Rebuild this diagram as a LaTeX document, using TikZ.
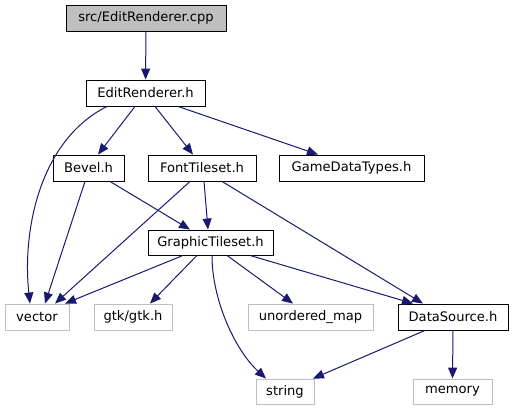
\documentclass[tikz,border=0pt]{standalone}
\usepackage{fontspec}
\setmainfont{DejaVu Sans}
\usetikzlibrary{arrows.meta}
\definecolor{edgeblue}{HTML}{191970}
\definecolor{leafgray}{HTML}{BFBFBF}
\begin{document}
\begin{tikzpicture}[x=1pt,y=-1pt,
  box/.style={draw=black,line width=0.9pt,fill=white,inner sep=0pt,minimum height=26pt,font=\fontsize{13.1}{15}\selectfont},
  leaf/.style={box,draw=leafgray},
  root/.style={box,fill=leafgray},
  e/.style={draw=edgeblue,line width=1pt,-{Triangle[length=11pt,width=9pt]}}]
\useasboundingbox (0,0) rectangle (514,411);
\node[root,minimum width=160pt] (cpp) at (146,18) {src/EditRenderer.cpp};
\node[box,minimum width=119pt] (eh) at (145.5,93) {EditRenderer.h};
\node[box,minimum width=71pt] (bevel) at (88.5,168) {Bevel.h};
\node[box,minimum width=108pt] (font) at (202,168) {FontTileset.h};
\node[box,minimum width=145pt] (game) at (351.5,168) {GameDataTypes.h};
\node[box,minimum width=125pt,minimum height=25pt] (gt) at (210.5,242.5) {GraphicTileset.h};
\node[leaf,minimum width=64pt] (vector) at (37,317) {vector};
\node[leaf,minimum width=78pt] (gtk) at (133,317) {gtk/gtk.h};
\node[leaf,minimum width=125pt] (umap) at (310.5,317) {unordered\_map};
\node[box,minimum width=110pt] (ds) at (453,317) {DataSource.h};
\node[leaf,minimum width=58pt,minimum height=25pt] (string) at (285,391.5) {string};
\node[leaf,minimum width=79pt,minimum height=25pt] (memory) at (452.5,391.5) {memory};

\draw[e] (cpp) -- (eh);
\draw[e] ([xshift=-38.5pt]eh.south) .. controls (40,140) and (22,230) .. ([xshift=-7pt]vector.north);
\draw[e] ([xshift=-10.5pt]eh.south) -- ([xshift=9.5pt]bevel.north);
\draw[e] ([xshift=9.5pt]eh.south) -- ([xshift=-9pt]font.north);
\draw[e] ([xshift=32.5pt]eh.south) -- ([xshift=-33.5pt]game.north);
\draw[e] ([xshift=-3.5pt]bevel.south) -- ([xshift=8pt]vector.north);
\draw[e] ([xshift=21.5pt]bevel.south) -- ([xshift=-20.5pt]gt.north);
\draw[e] ([xshift=-12pt]font.south) -- ([xshift=18pt]vector.north);
\draw[e] ([xshift=2pt]font.south) -- ([xshift=-2.5pt]gt.north);
\draw[e] ([xshift=20pt]font.south) -- ([xshift=-30pt]ds.north);
\draw[e] ([xshift=-27.5pt]gt.south) -- ([xshift=28pt]vector.north);
\draw[e] ([xshift=-13.5pt]gt.south) -- ([xshift=17pt]gtk.north);
\draw[e] ([xshift=16.5pt]gt.south) -- ([xshift=-17.5pt]umap.north);
\draw[e] ([xshift=39.5pt]gt.south) -- ([xshift=-40pt]ds.north);
\draw[e] ([xshift=1.5pt]gt.south) .. controls (212,300) and (235,350) .. ([xshift=-19pt]string.north);
\draw[e] ([xshift=-28pt]ds.south) -- ([xshift=28pt]string.north);
\draw[e] (ds.south) -- (memory.north);
\end{tikzpicture}
\end{document}
